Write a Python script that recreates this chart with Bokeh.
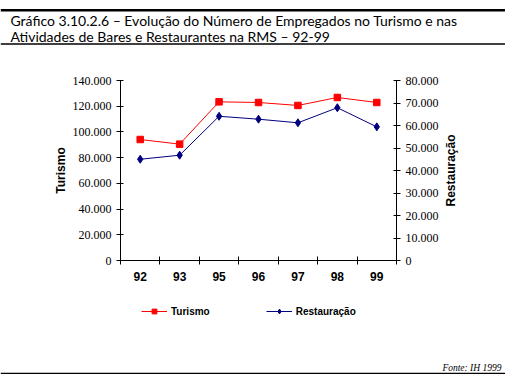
import math
from bokeh.plotting import figure
from bokeh.models import (Range1d, LinearAxis, FixedTicker, Label, Span,
                          Legend, LegendItem)
from bokeh.embed import file_html
from bokeh.resources import INLINE

years = ["92", "93", "95", "96", "97", "98", "99"]
turismo = [94100, 90500, 123400, 122900, 120600, 126800, 122900]
restauracao = [45000, 46800, 64100, 62800, 61200, 67900, 59400]

left_ticks = [0, 20000, 40000, 60000, 80000, 100000, 120000, 140000]
left_labels = ["0", "20.000", "40.000", "60.000", "80.000", "100.000", "120.000", "140.000"]
right_ticks = [0, 10000, 20000, 30000, 40000, 50000, 60000, 70000, 80000]
right_labels = ["0", "10.000", "20.000", "30.000", "40.000", "50.000", "60.000", "70.000", "80.000"]

title1 = "Gráfico 3.10.2.6 – Evolução do Número de Empregados no Turismo e nas"
title2 = "Atividades de Bares e Restaurantes na RMS – 92-99"
source = "Fonte: IH 1999"
left_name = "Turismo"
right_name = "Restauração"

n = len(years)
xs = [i + 0.5 for i in range(n)]
LMAX, RMAX = 140000, 80000

# layout (pixels): plotting area of the chart inside a full-canvas frame
W, H = 505, 374
PX_L, PX_R, PY_T, PY_B = 120, 396, 80, 260
kx = n / (PX_R - PX_L)
ky = LMAX / (PY_B - PY_T)
kr = RMAX / (PY_B - PY_T)


def xv(px):
    return (px - PX_L) * kx


def yv(py):
    return (PY_B - py) * ky


p = figure(width=W, height=H, output_backend="svg", toolbar_location=None,
           x_range=Range1d(xv(0), xv(W)), y_range=Range1d(yv(H), yv(0)),
           min_border=0, x_axis_type=None, y_axis_type=None)
p.extra_y_ranges = {"r": Range1d(-(H - PY_B) * kr, RMAX + PY_T * kr)}
p.outline_line_color = None
p.grid.visible = False
p.background_fill_color = "white"
p.border_fill_color = "white"

# x axis
xax = LinearAxis(ticker=FixedTicker(ticks=xs, minor_ticks=list(range(n + 1))),
                 fixed_location=0, bounds=(0, n))
xax.major_label_overrides = {x: y for x, y in zip(xs, years)}
xax.major_tick_line_color = None
xax.major_tick_out = 4
xax.major_tick_in = 0
xax.minor_tick_in = 4
xax.minor_tick_out = 4
xax.minor_tick_line_color = "black"
xax.major_label_standoff = 7
xax.major_label_text_font = "Liberation Sans"
xax.major_label_text_font_style = "bold"
xax.major_label_text_font_size = "12px"
xax.major_label_text_color = "black"
xax.axis_line_color = "black"
p.add_layout(xax, "below")

lax = LinearAxis(ticker=FixedTicker(ticks=left_ticks, minor_ticks=[]),
                 fixed_location=0, bounds=(0, LMAX))
lax.major_label_overrides = {t: l for t, l in zip(left_ticks, left_labels)}
lax.axis_label = left_name
lax.axis_label_text_font = "Liberation Sans"
lax.axis_label_text_font_style = "bold"
lax.axis_label_text_font_size = "12px"
lax.axis_label_text_color = "black"
lax.axis_label_standoff = 2
p.add_layout(lax, "left")

rax = LinearAxis(y_range_name="r", ticker=FixedTicker(ticks=right_ticks, minor_ticks=[]),
                 fixed_location=n, bounds=(0, RMAX))
rax.major_label_overrides = {t: l for t, l in zip(right_ticks, right_labels)}
p.add_layout(rax, "right")

for ax in (lax, rax):
    ax.major_tick_in = 3
    ax.major_tick_out = 4
    ax.major_tick_line_color = "black"
    ax.axis_line_color = "black"
    ax.major_label_standoff = 5
    ax.major_label_text_font = "Liberation Serif"
    ax.major_label_text_font_size = "12px"
    ax.major_label_text_color = "black"

# right axis title, reading bottom to top
p.add_layout(Label(x=xv(450), y=RMAX / 2, y_range_name="r", text=right_name, angle=math.pi / 2,
                   text_font="Liberation Sans", text_font_style="bold", text_font_size="12px",
                   text_color="black", text_align="center", text_baseline="middle"))

l1 = p.line(xs, turismo, line_color="#FF0000", line_width=1)
s1 = p.scatter(xs, turismo, marker="square", size=6.5, fill_color="#FF0000", line_color="#FF0000")
l2 = p.line(xs, restauracao, line_color="#000080", line_width=1, y_range_name="r")
s2 = p.scatter(xs, restauracao, marker="diamond", size=8, fill_color="#000080",
               line_color="#000080", y_range_name="r")

legend = Legend(items=[LegendItem(label=left_name, renderers=[l1, s1]),
                       LegendItem(label=right_name, renderers=[l2, s2])],
                orientation="horizontal", location=(141, H - 311 - 6))
legend.padding = 0
legend.margin = 0
legend.spacing = 56
legend.glyph_width = 26
legend.glyph_height = 12
legend.label_height = 12
legend.label_standoff = 4
legend.border_line_color = None
legend.background_fill_alpha = 0
legend.label_text_font = "Liberation Sans"
legend.label_text_font_style = "bold"
legend.label_text_font_size = "10px"
legend.label_text_color = "black"
p.add_layout(legend, "center")

# title, source and rules
p.add_layout(Span(location=yv(9.7), dimension="width", line_color="black", line_width=2.5))
p.add_layout(Span(location=yv(43.5), dimension="width", line_color="black", line_width=1.3))
p.add_layout(Span(location=yv(373), dimension="width", line_color="black", line_width=1.4))
for txt, py in ((title1, 20), (title2, 35.5)):
    p.add_layout(Label(x=xv(10), y=yv(py), text=txt, text_font="Lato", text_font_size="14px",
                       text_color="black", text_baseline="middle", text_align="left"))
p.add_layout(Label(x=xv(501), y=yv(367), text=source, text_font="Liberation Serif",
                   text_font_style="italic", text_font_size="9.5px", text_color="black",
                   text_baseline="alphabetic", text_align="right"))

open("out.html", "w").write(file_html(p, INLINE))
